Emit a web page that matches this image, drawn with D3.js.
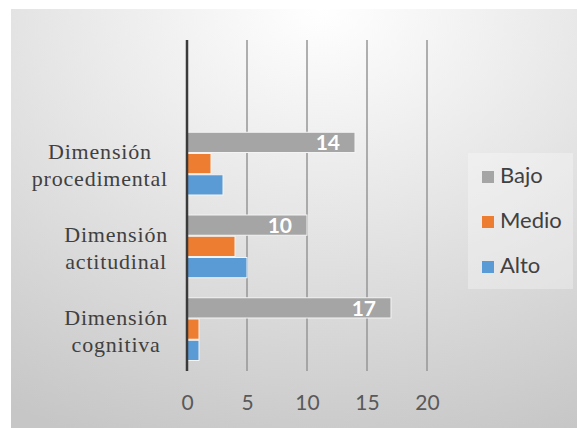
<!DOCTYPE html>
<html>
<head>
<meta charset="utf-8">
<script src="https://cdn.jsdelivr.net/npm/d3@7"></script>
<style>
  html, body { margin: 0; padding: 0; background: #fff; }
</style>
</head>
<body>
<div id="chart"></div>
<script>
// Values
const categories = ["", "Dimensión procedimental", "Dimensión actitudinal", "Dimensión cognitiva"];
const categoryLines = [[], ["Dimensión", "procedimental"], ["Dimensión", "actitudinal"], ["Dimensión", "cognitiva"]];
const seriesNames = ["Bajo", "Medio", "Alto"];
const bajo = [null, 14, 10, 17];
const medio = [null, 2, 4, 1];
const alto = [null, 3, 5, 1];
const xTicks = [0, 5, 10, 15, 20];
const colors = { Bajo: "#a5a5a5", Medio: "#ed7d31", Alto: "#5b9bd5" };

const W = 577, H = 428;
const svg = d3.select("#chart").append("svg").attr("width", W).attr("height", H);

// background panel with soft radial gradient (like the Excel chart area)
const defs = svg.append("defs");
const grad = defs.append("radialGradient").attr("id", "bg")
  .attr("cx", "55%").attr("cy", "0%").attr("r", "110%")
  .attr("gradientUnits", "objectBoundingBox");
grad.append("stop").attr("offset", "0%").attr("stop-color", "#ffffff");
grad.append("stop").attr("offset", "45%").attr("stop-color", "#e6e6e6");
grad.append("stop").attr("offset", "100%").attr("stop-color", "#c6c6c6");
svg.append("rect").attr("x", 11).attr("y", 9).attr("width", W - 11).attr("height", H - 9)
  .attr("fill", "url(#bg)");

const plot = { left: 187, top: 40, right: 427, bottom: 371 };

const xs = d3.scaleLinear().domain([0, 20]).range([plot.left, plot.right]);
const ys = d3.scaleBand().domain(categories).range([plot.top, plot.bottom]);
const inner = d3.scaleBand().domain(seriesNames).range([9.5, ys.bandwidth() - 9.5]);

// gridlines
svg.append("g").selectAll("line").data(xTicks.slice(1)).join("line")
  .attr("x1", d => xs(d)).attr("x2", d => xs(d))
  .attr("y1", plot.top).attr("y2", plot.bottom)
  .attr("stroke", "#969696").attr("stroke-width", 1.5);

// bars
const rows = [];
categories.forEach((c, i) => {
  [bajo, medio, alto].forEach((arr, j) => {
    if (arr[i] != null) rows.push({ cat: c, series: seriesNames[j], value: arr[i] });
  });
});

svg.append("g").selectAll("rect").data(rows).join("rect")
  .attr("x", xs(0))
  .attr("y", d => ys(d.cat) + inner(d.series))
  .attr("width", d => xs(d.value) - xs(0))
  .attr("height", inner.bandwidth() - 1)
  .attr("fill", d => colors[d.series])
  .attr("stroke", "#f4f4f4").attr("stroke-width", 1);

// data labels for Bajo
svg.append("g").selectAll("text").data(rows.filter(d => d.series === "Bajo")).join("text")
  .attr("x", d => xs(d.value) - 15)
  .attr("y", d => ys(d.cat) + inner(d.series) + inner.bandwidth() / 2)
  .attr("dy", "0.36em")
  .attr("text-anchor", "end")
  .attr("fill", "#ffffff")
  .attr("font-family", "Lato, 'Open Sans', sans-serif")
  .attr("font-weight", "bold")
  .attr("font-size", 21)
  .text(d => d.value);

// vertical category axis line
svg.append("line")
  .attr("x1", xs(0)).attr("x2", xs(0))
  .attr("y1", plot.top).attr("y2", plot.bottom)
  .attr("stroke", "#3a3a3a").attr("stroke-width", 2.5);

// x axis tick labels
const xAxis = svg.append("g")
  .attr("transform", `translate(0,${plot.bottom})`)
  .call(d3.axisBottom(xs).tickValues(xTicks).tickSize(0).tickPadding(24));
xAxis.select(".domain").remove();
xAxis.selectAll("text")
  .attr("fill", "#595959")
  .attr("font-family", "Lato, 'Open Sans', sans-serif")
  .attr("font-size", 21);

// category labels (two lines, serif)
categories.forEach((c, i) => {
  const lines = categoryLines[i];
  if (!lines.length) return;
  const cy = ys(c) + ys.bandwidth() / 2;
  const t = svg.append("text")
    .attr("font-family", "'Liberation Serif', 'Times New Roman', serif")
    .attr("font-size", 22)
    .attr("letter-spacing", 0.8)
    .attr("fill", "#404040")
    .attr("text-anchor", "middle");
  lines.forEach((ln, k) => {
    t.append("tspan").attr("x", 0).attr("y", cy + (k === 0 ? -5 : 22)).text(ln);
  });
  const bb = t.node().getBBox();
  t.attr("transform", `translate(${168 - bb.width / 2},0)`);
});

// legend
const legend = svg.append("g");
legend.append("rect")
  .attr("x", 468).attr("y", 153).attr("width", 105).attr("height", 136)
  .attr("fill", "#ffffff").attr("fill-opacity", 0.3);
seriesNames.forEach((s, i) => {
  const by = 183 + i * 45;
  legend.append("rect")
    .attr("x", 482).attr("y", by - 12).attr("width", 12).attr("height", 12)
    .attr("fill", colors[s]);
  legend.append("text")
    .attr("x", 500).attr("y", by)
    .attr("fill", "#404040")
    .attr("font-family", "Lato, 'Open Sans', sans-serif")
    .attr("font-size", 22)
    .text(s);
});
</script>
</body>
</html>
